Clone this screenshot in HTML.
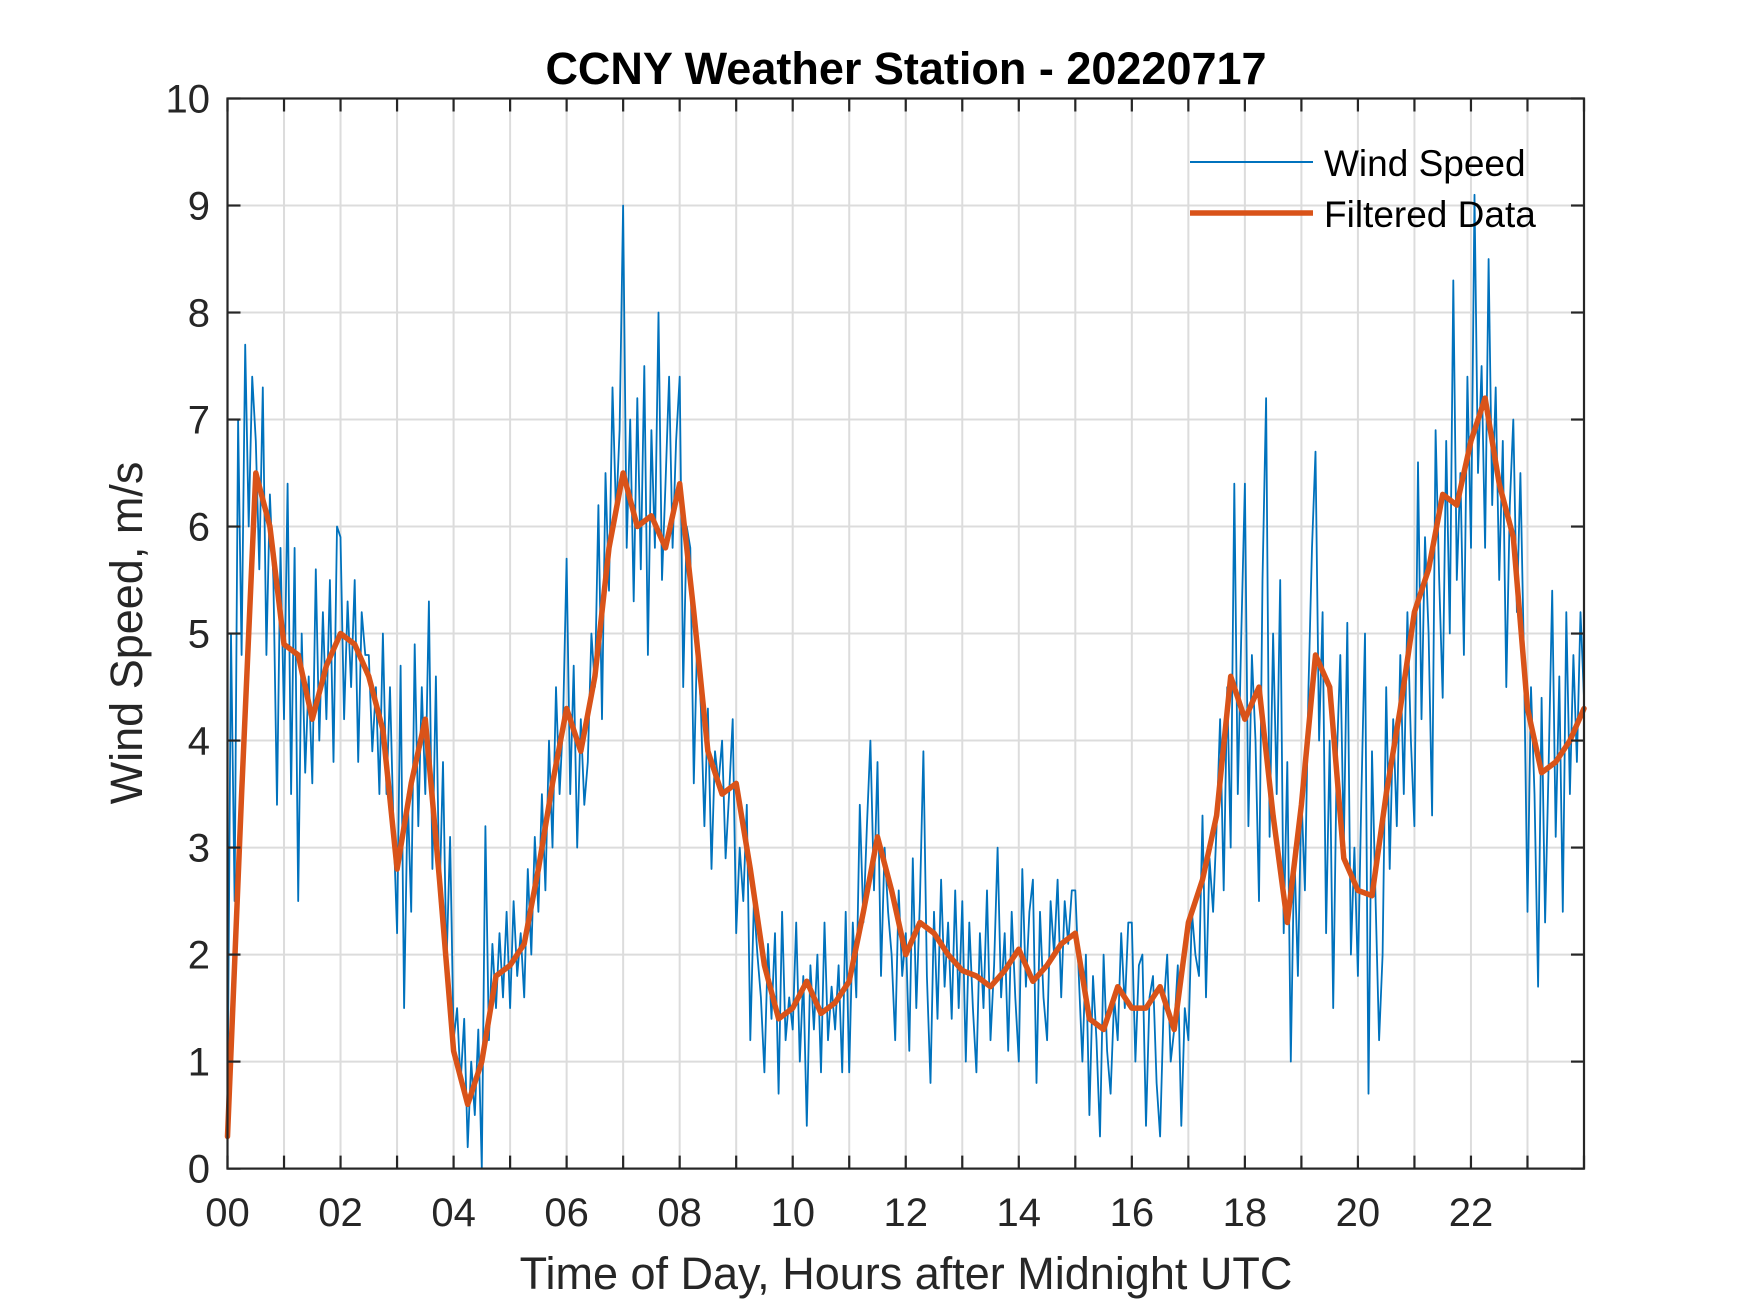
<!DOCTYPE html>
<html><head><meta charset="utf-8"><style>
html,body{margin:0;padding:0;background:#fff;}
svg{display:block;font-family:"Liberation Sans",Arial,sans-serif;}
</style></head><body>
<svg id="chart" width="1750" height="1313" viewBox="0 0 1750 1313" xmlns="http://www.w3.org/2000/svg">
<rect width="1750" height="1313" fill="#fff"/>
<g id="grid"></g>
<g id="series"></g>
<g id="axes"></g>
<text x="906" y="84" text-anchor="middle" font-size="45" font-weight="bold" fill="#000">CCNY Weather Station - 20220717</text>
<text x="906" y="1289" text-anchor="middle" font-size="45" fill="#262626">Time of Day, Hours after Midnight UTC</text>
<text transform="translate(142,633) rotate(-90)" text-anchor="middle" font-size="45" fill="#262626">Wind Speed, m/s</text>
<g>
<line x1="1190" y1="162" x2="1313" y2="162" stroke="#0072BD" stroke-width="2"/>
<text x="1324" y="176" font-size="37" fill="#000">Wind Speed</text>
<line x1="1190" y1="213" x2="1313" y2="213" stroke="#D95319" stroke-width="5.5"/>
<text x="1324" y="227" font-size="37" fill="#000">Filtered Data</text>
</g>
</svg>
<script>
const xTickLabels = ["00","02","04","06","08","10","12","14","16","18","20","22"];
const yTickLabels = [0,1,2,3,4,5,6,7,8,9,10];
const windSpeed = [
0.5,5.0,2.5,7.0,4.8,7.7,6.0,7.4,6.8,5.6,7.3,4.8,6.3,5.5,3.4,5.8,
4.2,6.4,3.5,5.8,2.5,5.0,3.7,4.6,3.6,5.6,4.0,5.2,4.2,5.5,3.8,6.0,
5.9,4.2,5.3,4.5,5.5,3.8,5.2,4.8,4.8,3.9,4.5,3.5,5.0,3.5,4.5,3.2,
2.2,4.7,1.5,3.5,2.4,4.9,3.2,4.5,3.5,5.3,2.8,4.6,2.5,3.8,1.9,3.1,
1.2,1.5,0.8,1.4,0.2,1.0,0.5,1.3,0.0,3.2,1.2,2.1,1.5,2.2,1.6,2.4,
1.5,2.5,1.8,2.2,1.6,2.8,2.0,3.1,2.4,3.5,2.6,4.0,3.0,4.5,3.5,4.2,
5.7,3.5,4.7,3.0,4.2,3.4,3.8,5.0,4.5,6.2,4.2,6.5,5.4,7.3,6.1,6.9,
9.0,5.8,7.0,5.3,7.2,5.6,7.5,4.8,6.9,5.8,8.0,5.5,6.4,7.4,5.8,6.8,
7.4,4.5,6.0,5.8,3.6,5.0,4.3,3.2,4.3,2.8,3.9,3.6,4.0,2.9,3.5,4.2,
2.2,3.0,2.5,3.4,1.2,2.5,2.0,1.6,0.9,2.1,1.4,2.2,0.7,2.4,1.2,1.6,
1.3,2.3,1.0,1.8,0.4,1.9,1.3,2.0,0.9,2.3,1.2,1.7,1.3,1.9,0.9,2.4,
0.9,2.3,1.6,3.4,2.3,3.2,4.0,2.6,3.8,1.8,3.0,2.4,2.0,1.2,2.6,1.8,
2.2,1.1,2.9,1.5,2.5,3.9,1.8,0.8,2.4,1.4,2.7,1.7,2.3,1.4,2.6,1.5,
2.5,1.0,2.3,1.5,0.9,2.2,1.5,2.6,1.2,1.9,3.0,1.6,2.2,1.1,2.4,1.6,
1.0,2.8,1.7,2.4,2.7,0.8,2.4,1.6,1.2,2.5,2.0,2.7,1.6,2.5,2.1,2.6,
2.6,1.8,1.0,2.0,0.5,1.8,1.2,0.3,2.0,1.1,0.7,1.6,1.2,2.2,1.5,2.3,
2.3,1.0,1.9,2.0,0.4,1.6,1.8,0.8,0.3,1.5,2.0,1.0,1.3,1.9,0.4,1.5,
1.2,2.4,2.0,1.8,3.3,1.6,2.9,2.4,3.2,4.2,2.6,4.5,3.0,6.4,3.5,5.0,
6.4,3.2,4.8,4.0,2.5,5.5,7.2,3.1,5.0,3.5,5.5,2.2,3.8,1.0,3.0,1.8,
3.5,2.6,4.5,5.8,6.7,4.0,5.2,2.2,4.0,1.5,3.8,4.8,3.0,5.1,2.0,3.0,
1.8,3.5,5.0,0.7,3.9,2.5,1.2,2.0,4.5,2.8,4.2,3.2,4.8,3.5,5.2,4.0,
3.2,6.6,4.2,5.9,5.0,3.3,6.9,5.5,4.4,6.8,5.0,8.3,5.5,6.5,4.8,7.4,
5.8,9.1,6.5,7.5,5.8,8.5,6.2,7.3,5.5,6.8,4.5,6.2,7.0,5.2,6.5,4.8,
2.4,4.5,3.5,1.7,4.4,2.3,3.8,5.4,3.1,4.6,2.4,5.2,3.5,4.8,3.8,5.2,4.4];
const filtered = [0.3,3.5,6.5,6.0,4.9,4.8,4.2,4.7,5.0,4.9,4.6,4.1,2.8,3.6,4.2,2.7,1.1,0.6,1.0,1.8,1.9,2.1,2.8,3.6,4.3,3.9,4.6,5.8,6.5,6.0,6.1,5.8,6.4,5.2,3.9,3.5,3.6,2.8,1.9,1.4,1.5,1.75,1.45,1.55,1.75,2.4,3.1,2.6,2.0,2.3,2.2,2.0,1.85,1.8,1.7,1.85,2.05,1.75,1.9,2.1,2.2,1.4,1.3,1.7,1.5,1.5,1.7,1.3,2.3,2.7,3.3,4.6,4.2,4.5,3.3,2.3,3.4,4.8,4.5,2.9,2.6,2.55,3.5,4.3,5.2,5.6,6.3,6.2,6.8,7.2,6.4,5.9,4.3,3.7,3.8,4.0,4.3];

const L=227.5,R=1584,T=98.5,B=1168.6;
const xs=h=>L+(R-L)*h/24;
const ys=v=>B-(B-T)*v/10;
const NS="http://www.w3.org/2000/svg";
function mk(tag,attrs,parent){const e=document.createElementNS(NS,tag);for(const k in attrs)e.setAttribute(k,attrs[k]);parent.appendChild(e);return e;}
const grid=document.getElementById('grid'),axes=document.getElementById('axes'),series=document.getElementById('series');
for(let h=1;h<24;h++){const l=mk('line',{x1:xs(h),x2:xs(h),y1:T,y2:B,stroke:'#dcdcdc','stroke-width':2},grid);

}
for(let v=1;v<10;v++){const l=mk('line',{x1:L,x2:R,y1:ys(v),y2:ys(v),stroke:'#dcdcdc','stroke-width':2},grid);

}
const p1=windSpeed.map((v,i)=>xs(i*24/(windSpeed.length-1)).toFixed(1)+','+ys(v).toFixed(1)).join(' ');
const wl=mk('polyline',{points:p1,fill:'none',stroke:'#0072BD','stroke-width':1.8,'stroke-linejoin':'round'},series);


const p2=filtered.map((v,i)=>xs(i*24/(filtered.length-1)).toFixed(1)+','+ys(v).toFixed(1)).join(' ');
const fl=mk('polyline',{points:p2,fill:'none',stroke:'#D95319','stroke-width':5.5,'stroke-linejoin':'round','stroke-linecap':'round'},series);


const box=mk('rect',{x:L,y:T,width:R-L,height:B-T,fill:'none',stroke:'#262626','stroke-width':2.2},axes);


for(let h=0;h<=24;h++){
 mk('line',{x1:xs(h),x2:xs(h),y1:B,y2:B-13,stroke:'#262626','stroke-width':2.2},axes);
 mk('line',{x1:xs(h),x2:xs(h),y1:T,y2:T+13,stroke:'#262626','stroke-width':2.2},axes);
}
xTickLabels.forEach((s,i)=>{const t=mk('text',{x:xs(i*2),y:1226,'text-anchor':'middle','font-size':40,fill:'#262626'},axes);t.textContent=s;

});
yTickLabels.forEach(v=>{
 mk('line',{x1:L,x2:L+13,y1:ys(v),y2:ys(v),stroke:'#262626','stroke-width':2.2},axes);
 mk('line',{x1:R,x2:R-13,y1:ys(v),y2:ys(v),stroke:'#262626','stroke-width':2.2},axes);
 const t=mk('text',{x:210,y:ys(v)+14,'text-anchor':'end','font-size':40,fill:'#262626'},axes);t.textContent=v;
 
 
});
</script>
</body></html>
